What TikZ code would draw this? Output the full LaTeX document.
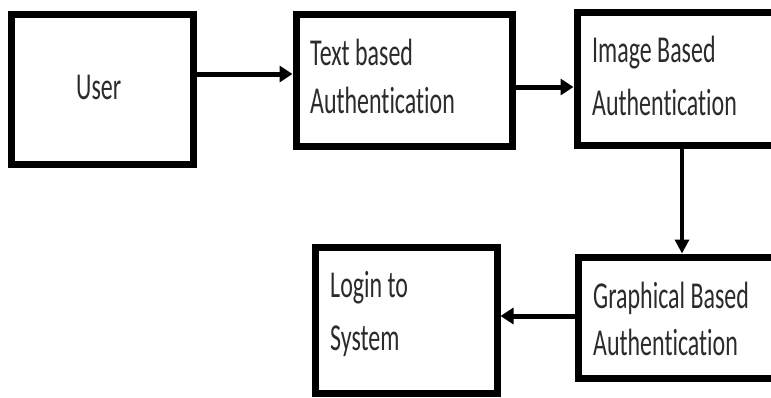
\documentclass[tikz,border=0pt]{standalone}
\usepackage{fontspec}
\usepackage{graphicx}
\setmainfont{Carlito}[Ligatures={NoCommon}]
\usetikzlibrary{arrows.meta}
\definecolor{txt}{HTML}{2B2B2B}
\tikzset{
  box/.style={draw=black, line width=7pt, fill=white, rectangle, inner sep=0pt},
  lbl/.style={anchor=base west, inner sep=0pt, text=txt, font=\fontsize{38}{40}\selectfont},
  arr/.style={draw=black, line width=5pt, -{Triangle[length=13pt,width=16pt]}},
  varr/.style={draw=black, line width=4pt, -{Triangle[length=14pt,width=14pt]}}
}
\newcommand{\sqz}[1]{\scalebox{0.63}[1]{#1}}
\begin{document}
\begin{tikzpicture}[x=1pt,y=-1pt]
\useasboundingbox (0,0) rectangle (771,397);
\clip (0,0) rectangle (771,397);
% boxes
\node[box, minimum width=182pt, minimum height=150pt] (User) at (102,89) {};
\node[box, minimum width=216pt, minimum height=132pt] (Text) at (404,80) {};
\node[box, minimum width=223pt, minimum height=133pt] (Image) at (688.5,78.5) {};
\node[box, minimum width=222pt, minimum height=121pt] (Graph) at (689,317.5) {};
\node[box, minimum width=182pt, minimum height=146pt] (Login) at (406,320) {};
% texts
\node[lbl] (tUser) at (76,99) {\sqz{User}};
\node[lbl] (tText1) at (310,65) {\sqz{Text based}};
\node[lbl] (tText2) at (310,113) {\sqz{Authentication}};
\node[lbl] (tImg1) at (592,62) {\sqz{Image Based}};
\node[lbl] (tImg2) at (592,115) {\sqz{Authentication}};
\node[lbl] (tGr1) at (593,308) {\sqz{Graphical Based}};
\node[lbl] (tGr2) at (593,355) {\sqz{Authentication}};
\node[lbl] (tLog1) at (330,297) {\sqz{Login to}};
\node[lbl] (tLog2) at (330,350) {\sqz{System}};
% connectors
\draw[arr] ([yshift=15pt]User.east) coordinate (a1) -- (a1 -| Text.west);
\draw[arr] ([yshift=-7pt]Text.east) coordinate (a2) -- (a2 -| Image.west);
\draw[varr] ([xshift=-6.5pt]Image.south) coordinate (a3) -- (a3 |- Graph.north);
\draw[arr] ([yshift=1.5pt]Graph.west) coordinate (a4) -- (a4 -| Login.east);
\end{tikzpicture}
\end{document}
